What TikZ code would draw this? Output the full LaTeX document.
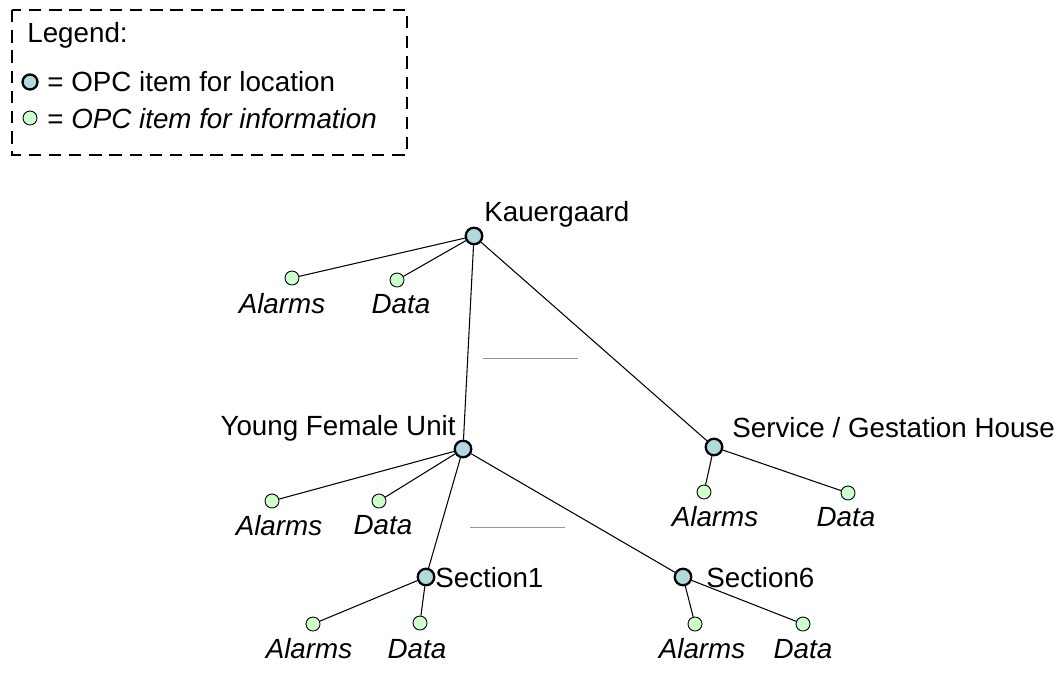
\documentclass[tikz,border=0pt]{standalone}
\usepackage{fontspec}
\setmainfont{Liberation Sans}
\usepackage{tikz}
\usepackage{xcolor}

\begin{document}
\begin{tikzpicture}[x=0.02cm,y=-0.02cm]
        % Define colors
        \definecolor{loccolor}{RGB}{178, 218, 222}   % light teal
        \definecolor{infocolor}{RGB}{204, 255, 204}  % light green
        \definecolor{hintcolor}{RGB}{150, 150, 150}  % gray

        \tikzset{
            loc/.style={draw, circle, line width=1.3pt, fill=loccolor, minimum size=0.33cm, inner sep=0pt},
            info/.style={draw, circle, line width=0.5pt, fill=infocolor, minimum size=0.28cm, inner sep=0pt},
            lbl/.style={inner sep=0pt, font=\fontsize{15.8}{19}\selectfont},
            ilbl/.style={lbl, font=\fontsize{15.8}{19}\selectfont\itshape},
            link/.style={line width=0.6pt}
        }

        \useasboundingbox (0,0) rectangle (1058,690);

        % Legend box
        \draw[line width=1.4pt, dash pattern=on 7pt off 4.5pt] (12,10) rectangle (407,155);
        \node[lbl, anchor=west] (legtitle) at (27,35) {Legend:};
        \node[loc, minimum size=0.3cm] (legloc) at (30,82) {};
        \node[lbl, anchor=west] (leglocText) at (47,82) {= OPC item for location};
        \node[info] (leginfo) at (30,118) {};
        \node[lbl, anchor=west] (leginfoText) at (47,119) {= \textit{OPC item for information}};

        % Location nodes
        \node[loc] (kauer) at (474,236) {};
        \node[loc] (yfu) at (463,449) {};
        \node[loc] (serv) at (714,447) {};
        \node[loc] (sec1) at (426,577) {};
        \node[loc] (sec6) at (683,577) {};

        \node[lbl, anchor=west] (kauerText) at (484,214) {Kauergaard};
        \node[lbl, anchor=east] (yfuText) at (456,428) {Young Female Unit};
        \node[lbl, anchor=west] (servText) at (732,428) {Service / Gestation House};
        \node[lbl, anchor=west] (sec1Text) at (435,578) {Section1};
        \node[lbl, anchor=west] (sec6Text) at (706,578) {Section6};

        % Information nodes
        \node[info] (kauerA) at (292,278) {};
        \node[info] (kauerD) at (397,280) {};
        \node[info] (yfuA) at (272,501) {};
        \node[info] (yfuD) at (379,501) {};
        \node[info] (servA) at (704,492) {};
        \node[info] (servD) at (848,493) {};
        \node[info] (sec1A) at (313,624) {};
        \node[info] (sec1D) at (420,623) {};
        \node[info] (sec6A) at (695,624) {};
        \node[info] (sec6D) at (803,624) {};

        \node[ilbl] (kauerAText) at (282,304) {Alarms};
        \node[ilbl] (kauerDText) at (401,304) {Data};
        \node[ilbl] (yfuAText) at (279,526) {Alarms};
        \node[ilbl] (yfuDText) at (383,525) {Data};
        \node[ilbl] (servAText) at (715,517) {Alarms};
        \node[ilbl] (servDText) at (846,517) {Data};
        \node[ilbl] (sec1AText) at (309,649) {Alarms};
        \node[ilbl] (sec1DText) at (417,649) {Data};
        \node[ilbl] (sec6AText) at (702,649) {Alarms};
        \node[ilbl] (sec6DText) at (803,649) {Data};

        % Links
        \draw[link] (kauer) -- (kauerA);
        \draw[link] (kauer) -- (kauerD);
        \draw[link] (kauer) -- (yfu);
        \draw[link] (kauer) -- (serv);

        \draw[link] (yfu) -- (yfuA);
        \draw[link] (yfu) -- (yfuD);
        \draw[link] (yfu) -- (sec1);
        \draw[link] (yfu) -- (sec6);

        \draw[link] (serv) -- (servA);
        \draw[link] (serv) -- (servD);

        \draw[link] (sec1) -- (sec1A);
        \draw[link] (sec1) -- (sec1D);
        \draw[link] (sec6) -- (sec6A);
        \draw[link] (sec6) -- (sec6D);

        % Gray marks
        \draw[hintcolor, line width=0.4pt] (483,358) -- (578,358);
        \draw[hintcolor, line width=0.4pt] (470,527) -- (565,527);
\end{tikzpicture}
\end{document}
